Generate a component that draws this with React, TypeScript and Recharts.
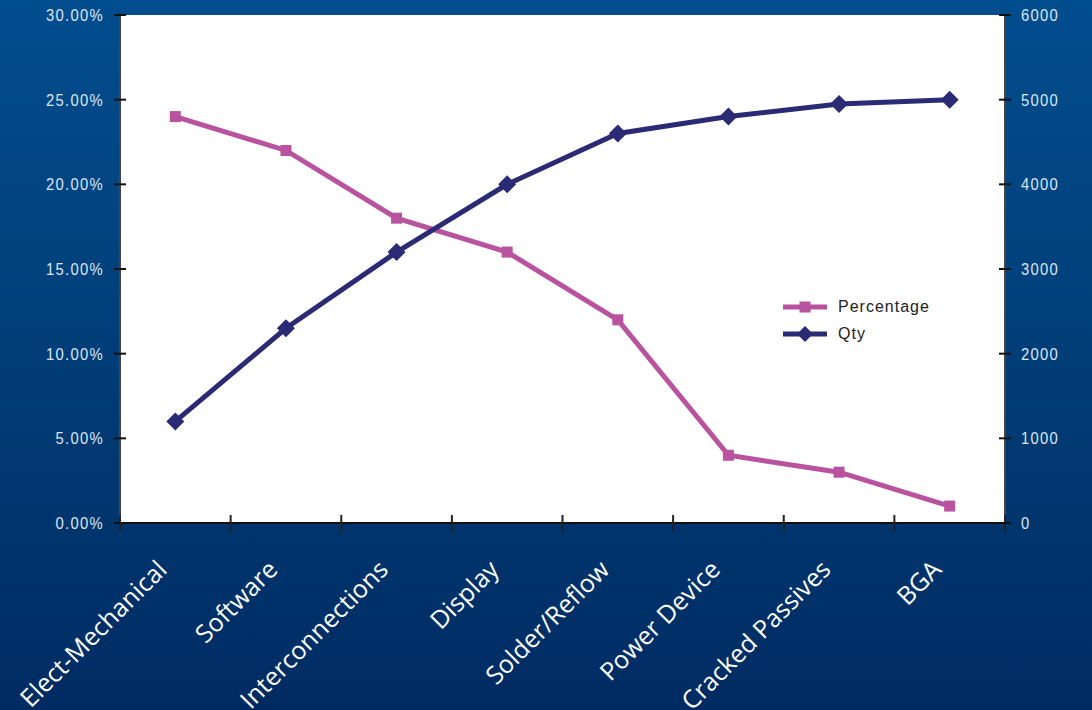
import React from 'react';
import { ComposedChart, Line, XAxis, YAxis, CartesianGrid } from 'recharts';

const categories = ['Elect-Mechanical', 'Software', 'Interconnections', 'Display', 'Solder/Reflow', 'Power Device', 'Cracked Passives', 'BGA'];
const percentage = [0.24, 0.22, 0.18, 0.16, 0.12, 0.04, 0.03, 0.01];
const qty = [1200, 2300, 3200, 4000, 4600, 4800, 4950, 5000];
const leftTicks = [0, 0.05, 0.1, 0.15, 0.2, 0.25, 0.3];
const rightTicks = [0, 1000, 2000, 3000, 4000, 5000, 6000];

const data = categories.map((c, i) => ({ category: c, percentage: percentage[i], qty: qty[i] }));

const PINK = '#b9529f';
const NAVY = '#2b2a75';
const LABEL = '#dce6f2';
const TICK_SIZE = 6;
const TICK_MARGIN = 10;

const CategoryTick = (props: any) => {
  const { x, y, payload, index, width, visibleTicksCount } = props;
  const n = visibleTicksCount || categories.length;
  const bw = (width || 885) / n;
  const ax = x - 13;
  const ay = y + 42;
  const left = x - bw / 2;
  const right = x + bw / 2;
  return (
    <g>
      <line x1={left} y1={y - 8} x2={left} y2={y + 8} stroke="#222" strokeWidth={2} />
      {index === n - 1 && <line x1={right} y1={y - 8} x2={right} y2={y + 8} stroke="#222" strokeWidth={2} />}
      <text x={ax} y={ay} transform={`rotate(-45 ${ax} ${ay})`} textAnchor="end" dy="0.35em"
        fill="#ffffff" fontSize={25} fontFamily="'Open Sans', sans-serif">
        {payload.value}
      </text>
    </g>
  );
};

const makeYTick = (side: 'left' | 'right', fmt: (v: number) => string) => (props: any) => {
  const { x, y, payload } = props;
  const dir = side === 'left' ? 1 : -1;
  const axisX = x + dir * (TICK_SIZE + TICK_MARGIN);
  return (
    <g>
      <line x1={axisX - 6} y1={y} x2={axisX + 6} y2={y} stroke="#111" strokeWidth={2} />
      <g transform={`translate(${x},${y})`}>
        <text transform="scale(0.87,1)" x={0} y={0} dy="0.36em" textAnchor={side === 'left' ? 'end' : 'start'} fill={LABEL}
          fontSize={17} letterSpacing={1.5} fontFamily="'Liberation Sans', Arial, sans-serif">
          {fmt(payload.value)}
        </text>
      </g>
    </g>
  );
};

const LeftTick = makeYTick('left', (v) => `${(v * 100).toFixed(2)}%`);
const RightTick = makeYTick('right', (v) => `${v}`);

const Square = (props: any) => {
  const { cx, cy, index } = props;
  if (cx == null || cy == null) return null;
  return <rect key={`sq-${index}`} x={cx - 5.5} y={cy - 5.5} width={11} height={11} fill={PINK} />;
};

const Diamond = (props: any) => {
  const { cx, cy, index } = props;
  if (cx == null || cy == null) return null;
  const r = 9;
  return <polygon key={`dm-${index}`} points={`${cx},${cy - r} ${cx + r},${cy} ${cx},${cy + r} ${cx - r},${cy}`} fill={NAVY} />;
};

const legendRows = [
  { name: 'Percentage', color: PINK, shape: 'square' },
  { name: 'Qty', color: NAVY, shape: 'diamond' },
];

const LegendBox = () => (
  <div style={{ position: 'absolute', left: 782, top: 293 }}>
    {legendRows.map((r) => (
      <div key={r.name} style={{ display: 'flex', alignItems: 'center', height: 27 }}>
        <svg width={56} height={20}>
          <line x1={1} y1={10} x2={45} y2={10} stroke={r.color} strokeWidth={5} />
          {r.shape === 'square' ? (
            <rect x={17.5} y={4.5} width={11} height={11} fill={r.color} />
          ) : (
            <polygon points="23,2 31,10 23,18 15,10" fill={r.color} />
          )}
        </svg>
        <span style={{ fontFamily: "'Liberation Sans', Arial, sans-serif", fontSize: 16, letterSpacing: 1, color: '#222' }}>{r.name}</span>
      </div>
    ))}
  </div>
);

export default function App() {
  return (
    <div style={{ position: 'absolute', left: 0, top: 0, width: 1092, height: 710, background: 'linear-gradient(to bottom, #024d8e 0%, #013f7a 45%, #002b62 100%)' }}>
      <ComposedChart width={1092} height={710} data={data} margin={{ top: 15, right: 0, left: 0, bottom: 0 }}>
        <CartesianGrid fill="#ffffff" horizontal={false} vertical={false} />
        <XAxis dataKey="category" scale="band" height={187} axisLine={{ stroke: '#111', strokeWidth: 2 }} tickLine={false}
          tickSize={0} tickMargin={0} interval={0} tick={<CategoryTick />} />
        <YAxis yAxisId="left" domain={[0, 0.3]} ticks={leftTicks} width={120} tickSize={TICK_SIZE} tickMargin={TICK_MARGIN}
          axisLine={{ stroke: '#444', strokeWidth: 2 }} tickLine={false}
          tick={<LeftTick />} />
        <YAxis yAxisId="right" orientation="right" domain={[0, 6000]} ticks={rightTicks} width={87} tickSize={TICK_SIZE} tickMargin={TICK_MARGIN}
          axisLine={{ stroke: '#444', strokeWidth: 2 }} tickLine={false}
          tick={<RightTick />} />
        <Line yAxisId="left" dataKey="percentage" name="Percentage" stroke={PINK} strokeWidth={5} dot={<Square />} activeDot={false} isAnimationActive={false} />
        <Line yAxisId="right" dataKey="qty" name="Qty" stroke={NAVY} strokeWidth={5} dot={<Diamond />} activeDot={false} isAnimationActive={false} />
      </ComposedChart>
      <LegendBox />
    </div>
  );
}
